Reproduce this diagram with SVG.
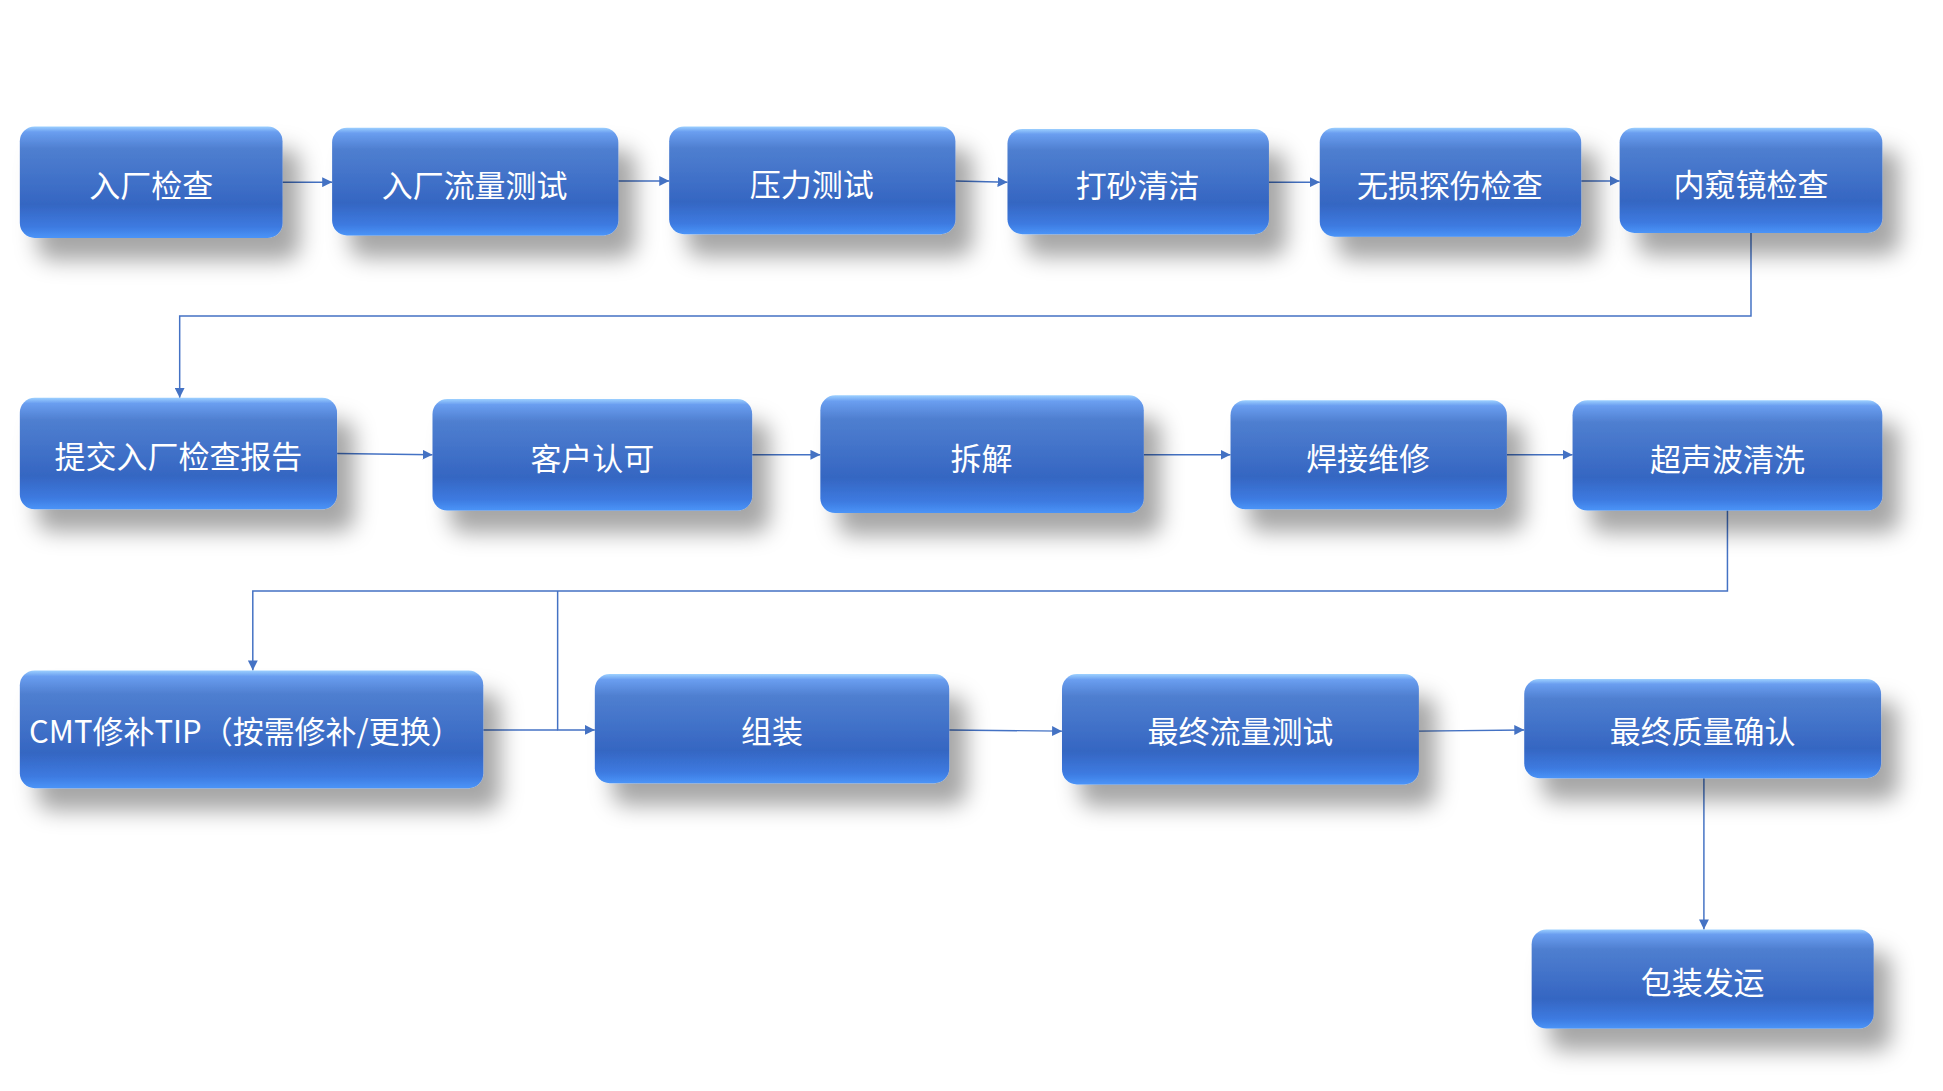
<svg xmlns="http://www.w3.org/2000/svg" width="1943" height="1091" viewBox="0 0 1943 1091">
<defs>
<linearGradient id="bg" x1="0" y1="0" x2="0" y2="1">
<stop offset="0" stop-color="#9cd0ff"/>
<stop offset="0.05" stop-color="#6a9ef0"/>
<stop offset="0.2" stop-color="#4f7fd0"/>
<stop offset="0.7" stop-color="#3566c2"/>
<stop offset="0.9" stop-color="#3d7ae0"/>
<stop offset="1" stop-color="#4a94f8"/>
</linearGradient>
<filter id="sh" x="-20%" y="-30%" width="150%" height="180%">
<feDropShadow dx="14" dy="18" stdDeviation="9" flood-color="#000" flood-opacity="0.35"/>
</filter>
<marker id="ar" viewBox="0 0 10 10" refX="10" refY="5" markerWidth="8" markerHeight="8" markerUnits="userSpaceOnUse" orient="auto">
<path d="M0,0 L10,5 L0,10 z" fill="#4472c4"/>
</marker>
<style>
.b{fill:url(#bg);filter:url(#sh)}
.t{fill:#fff;font-family:"Noto Sans CJK SC","Liberation Serif",serif;font-size:25px;text-anchor:middle;dominant-baseline:central}
.c{fill:none;stroke:#4472c4;stroke-width:1.2}
</style>
</defs>
<rect width="1943" height="1091" fill="#fff"/>
<g transform="scale(1.2392)">
<g id="connectors">
<path class="c" d="M228,147 H268" marker-end="url(#ar)"/>
<path class="c" d="M499,146 H540" marker-end="url(#ar)"/>
<path class="c" d="M771,146 L813,147" marker-end="url(#ar)"/>
<path class="c" d="M1024,147 H1065" marker-end="url(#ar)"/>
<path class="c" d="M1276,146 H1307" marker-end="url(#ar)"/>
<path class="c" d="M1413,188 V255 H145 V321" marker-end="url(#ar)"/>
<path class="c" d="M272,366 L349,367" marker-end="url(#ar)"/>
<path class="c" d="M607,367 H662" marker-end="url(#ar)"/>
<path class="c" d="M923,367 H993" marker-end="url(#ar)"/>
<path class="c" d="M1216,367 H1269" marker-end="url(#ar)"/>
<path class="c" d="M1394,412 V477 H204 V541" marker-end="url(#ar)"/>
<path class="c" d="M450,477 V589 H480" marker-end="url(#ar)"/>
<path class="c" d="M390,589 H450"/>
<path class="c" d="M766,589 L857,590" marker-end="url(#ar)"/>
<path class="c" d="M1145,590 L1230,589" marker-end="url(#ar)"/>
<path class="c" d="M1375,628 V750" marker-end="url(#ar)"/>
</g>
<g id="n1"><rect class="b" x="16" y="102" width="212" height="90" rx="12"/><text class="t" x="122" y="148">入厂检查</text></g>
<g id="n2"><rect class="b" x="268" y="103" width="231" height="87" rx="12"/><text class="t" x="383" y="148">入厂流量测试</text></g>
<g id="n3"><rect class="b" x="540" y="102" width="231" height="87" rx="12"/><text class="t" x="655" y="147">压力测试</text></g>
<g id="n4"><rect class="b" x="813" y="104" width="211" height="85" rx="12"/><text class="t" x="918" y="148">打砂清洁</text></g>
<g id="n5"><rect class="b" x="1065" y="103" width="211" height="88" rx="12"/><text class="t" x="1170" y="148">无损探伤检查</text></g>
<g id="n6"><rect class="b" x="1307" y="103" width="212" height="85" rx="12"/><text class="t" x="1413" y="147">内窥镜检查</text></g>
<g id="n7"><rect class="b" x="16" y="321" width="256" height="90" rx="12"/><text class="t" x="144" y="367">提交入厂检查报告</text></g>
<g id="n8"><rect class="b" x="349" y="322" width="258" height="90" rx="12"/><text class="t" x="478" y="368">客户认可</text></g>
<g id="n9"><rect class="b" x="662" y="319" width="261" height="95" rx="12"/><text class="t" x="792" y="368">拆解</text></g>
<g id="n10"><rect class="b" x="993" y="323" width="223" height="88" rx="12"/><text class="t" x="1104" y="368">焊接维修</text></g>
<g id="n11"><rect class="b" x="1269" y="323" width="250" height="89" rx="12"/><text class="t" x="1394" y="369">超声波清洗</text></g>
<g id="n12"><rect class="b" x="16" y="541" width="374" height="95" rx="12"/><text class="t" x="198" y="589">CMT修补TIP（按需修补/更换）</text></g>
<g id="n13"><rect class="b" x="480" y="544" width="286" height="88" rx="12"/><text class="t" x="623" y="589">组装</text></g>
<g id="n14"><rect class="b" x="857" y="544" width="288" height="89" rx="12"/><text class="t" x="1001" y="589">最终流量测试</text></g>
<g id="n15"><rect class="b" x="1230" y="548" width="288" height="80" rx="12"/><text class="t" x="1374" y="589">最终质量确认</text></g>
<g id="n16"><rect class="b" x="1236" y="750" width="276" height="80" rx="12"/><text class="t" x="1374" y="791">包装发运</text></g>
</g>
</svg>
